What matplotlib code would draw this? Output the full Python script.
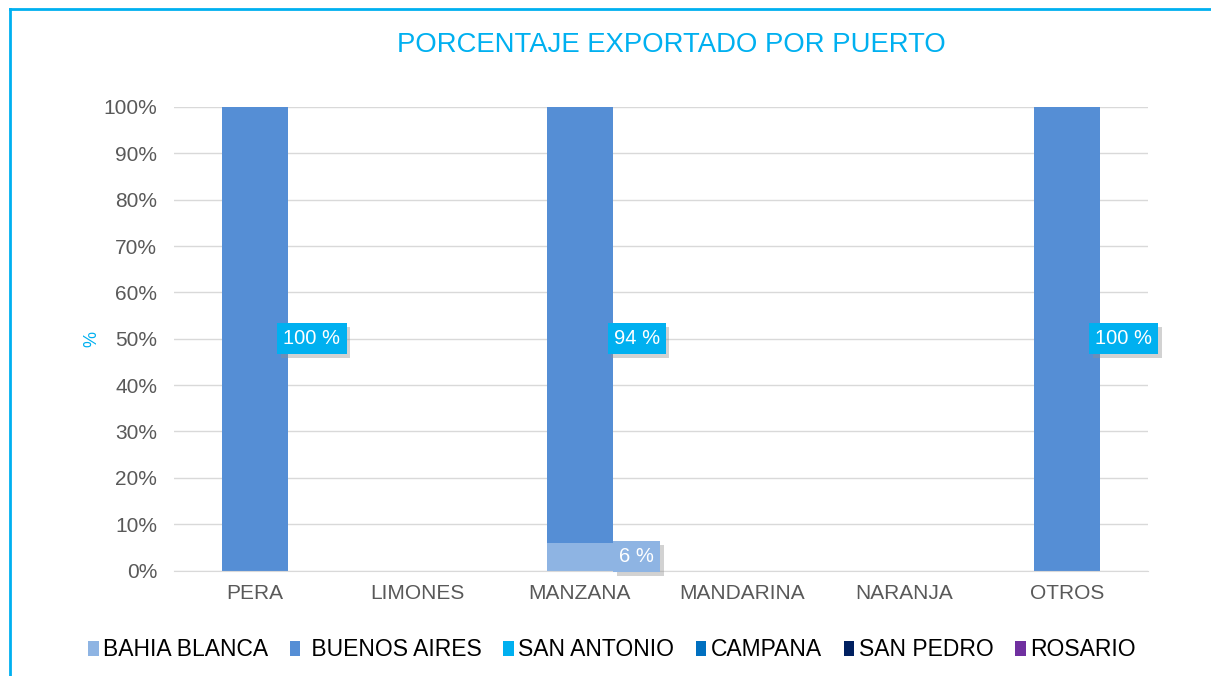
import matplotlib
matplotlib.use("Agg")
import matplotlib.pyplot as plt
from matplotlib.lines import Line2D
import matplotlib.patheffects as pe
import numpy as np

plt.rcParams['font.family'] = ['Liberation Sans', 'DejaVu Sans']

categories = ["PERA", "LIMONES", "MANZANA", "MANDARINA", "NARANJA", "OTROS"]
bahia_blanca = [0, 0, 6, 0, 0, 0]
buenos_aires = [100, 0, 94, 0, 0, 100]
san_antonio = [0, 0, 0, 0, 0, 0]
campana = [0, 0, 0, 0, 0, 0]
san_pedro = [0, 0, 0, 0, 0, 0]
rosario = [0, 0, 0, 0, 0, 0]
series_names = ["BAHIA BLANCA", " BUENOS AIRES", "SAN ANTONIO", "CAMPANA", "SAN PEDRO", "ROSARIO"]
yticks = list(range(0, 101, 10))
title = "PORCENTAJE EXPORTADO POR PUERTO"

series = [bahia_blanca, buenos_aires, san_antonio, campana, san_pedro, rosario]
colors = ["#8EB4E3", "#558ED5", "#00B0F0", "#0070C0", "#002060", "#7030A0"]
label_box = ["#8EB4E3", "#00B0F0", "#00B0F0", "#00B0F0", "#00B0F0", "#00B0F0"]

W, H = 1211, 676
fig = plt.figure(figsize=(W / 100, H / 100), dpi=100)
ax = fig.add_axes([174 / W, 1 - 570.5 / H, (1148 - 174) / W, (570.5 - 107) / H])

x = np.arange(len(categories))
bw = 0.41
bottom = np.zeros(len(categories))
containers = []
for name, vals, col in zip(series_names, series, colors):
    vals = np.array(vals, dtype=float)
    ax.bar(x, vals, bw, bottom=bottom, color=col, label=name, zorder=2)
    containers.append((vals, bottom.copy()))
    bottom = bottom + vals

# data labels
for (vals, bot), boxc in zip(containers, label_box):
    for xi, v, b in zip(x, vals, bot):
        if v <= 0:
            continue
        t = ax.text(xi + 0.35, (b + v) / 2, f"{int(round(v))} %", ha="center", va="center",
                    color="white", fontsize=14.5, zorder=5,
                    bbox=dict(boxstyle="square,pad=0.3", fc=boxc, ec="none"))
        t.get_bbox_patch().set_path_effects([
            pe.withSimplePatchShadow(offset=(2.5, -2.5), shadow_rgbFace="#8f8f8f", alpha=0.4),
            pe.Normal()])

ax.set_xlim(-0.5, len(categories) - 0.5)
ax.set_ylim(0, 100)
ax.set_yticks(yticks)
ax.set_yticklabels([f"{v}%" for v in yticks])
ax.set_xticks(x)
ax.set_xticklabels(categories)
ax.tick_params(axis="both", length=0, labelsize=15, colors="#595959")
ax.tick_params(axis="y", pad=12)
ax.tick_params(axis="x", pad=10)
ax.grid(axis="y", color="#D9D9D9", lw=1, zorder=0)
for s in ["top", "right", "left"]:
    ax.spines[s].set_visible(False)
ax.spines["bottom"].set_color("#D9D9D9")
ax.spines["bottom"].set_zorder(3)

ax.set_ylabel("%", color="#00B0F0", fontsize=13, labelpad=2)

fig.text(671 / W, 1 - 45 / H, title, ha="center", va="center", color="#00B0F0", fontsize=19.8)

leg = fig.legend(loc="center", bbox_to_anchor=(612 / W, 1 - 650 / H), ncol=6, frameon=False,
                 fontsize=16.5, handlelength=0.45, handleheight=0.6, handletextpad=0.2,
                 columnspacing=0.95, borderaxespad=0)
for t in leg.get_texts():
    t.set_color("#000000")

# frame border (top and left)
fig.add_artist(Line2D([10 / W, 1.0], [1 - 9 / H, 1 - 9 / H], transform=fig.transFigure,
                      color="#00B0F0", lw=2))
fig.add_artist(Line2D([10 / W, 10 / W], [1 - 9 / H, 0], transform=fig.transFigure,
                      color="#00B0F0", lw=2))

fig.savefig("out.png", dpi=100)
